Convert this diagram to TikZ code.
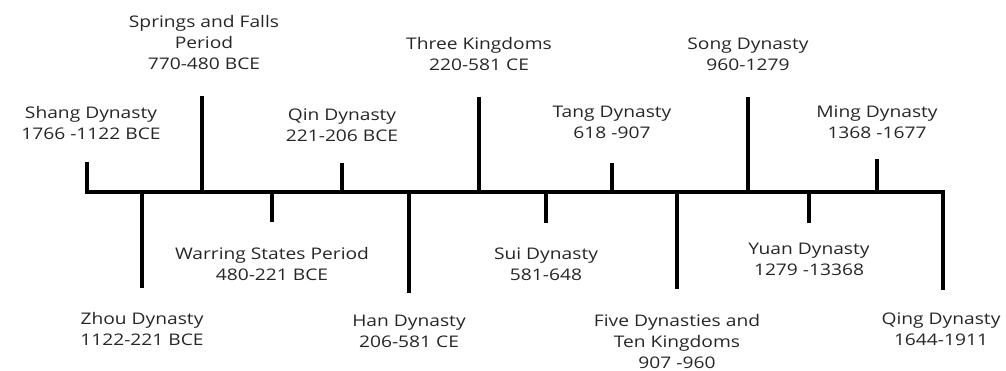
\documentclass[tikz,border=0pt]{standalone}
\usepackage{fontspec}
\setmainfont{Open Sans}[FakeStretch=1.2]
\begin{document}
\begin{tikzpicture}[
            x = 1pt, y = -1pt,
            every node/.style={align=center, inner sep=0pt, text=black!85,
                font=\fontsize{16}{21}\selectfont},
            line/.style={line width = 3.5pt},
            ]
        \useasboundingbox (0, 0) rectangle (1006, 371);

        % points on the axis
        \coordinate (shang) at (87, 192);
        \coordinate (zhou) at (142, 192);
        \coordinate (springs) at (202, 192);
        \coordinate (warring) at (272, 192);
        \coordinate (qin) at (342, 192);
        \coordinate (han) at (409, 192);
        \coordinate (three) at (479, 192);
        \coordinate (sui) at (546, 192);
        \coordinate (tang) at (612, 192);
        \coordinate (five) at (677, 192);
        \coordinate (song) at (748, 192);
        \coordinate (yuan) at (809, 192);
        \coordinate (ming) at (877, 192);
        \coordinate (qing) at (943, 192);

        % tick ends
        \coordinate (shang-end) at (87, 162);
        \coordinate (zhou-end) at (142, 288);
        \coordinate (springs-end) at (202, 96);
        \coordinate (warring-end) at (272, 222);
        \coordinate (qin-end) at (342, 163);
        \coordinate (han-end) at (409, 293);
        \coordinate (three-end) at (479, 97);
        \coordinate (sui-end) at (546, 223);
        \coordinate (tang-end) at (612, 163);
        \coordinate (five-end) at (677, 289);
        \coordinate (song-end) at (748, 97);
        \coordinate (yuan-end) at (809, 223);
        \coordinate (ming-end) at (877, 159);
        \coordinate (qing-end) at (943, 290);

        \draw[line] (shang-end) -- (shang) -- (qing) -- (qing-end);
        \draw[line] (zhou) -- (zhou-end);
        \draw[line] (springs) -- (springs-end);
        \draw[line] (warring) -- (warring-end);
        \draw[line] (qin) -- (qin-end);
        \draw[line] (han) -- (han-end);
        \draw[line] (three) -- (three-end);
        \draw[line] (sui) -- (sui-end);
        \draw[line] (tang) -- (tang-end);
        \draw[line] (five) -- (five-end);
        \draw[line] (song) -- (song-end);
        \draw[line] (yuan) -- (yuan-end);
        \draw[line] (ming) -- (ming-end);

        % labels above
        \node (shang-label) at (91, 123) {Shang Dynasty\\1766 -1122 BCE};
        \node (springs-label) at (204, 43) {Springs and Falls\\Period\\770-480 BCE};
        \node (qin-label) at (342, 125) {Qin Dynasty\\221-206 BCE};
        \node (three-label) at (479, 54) {Three Kingdoms\\220-581 CE};
        \node (tang-label) at (612, 122) {Tang Dynasty\\618 -907};
        \node (song-label) at (748, 54) {Song Dynasty\\960-1279};
        \node (ming-label) at (877, 122) {Ming Dynasty\\1368 -1677};

        % labels below
        \node (zhou-label) at (142, 329) {Zhou Dynasty\\1122-221 BCE};
        \node (warring-label) at (272, 264) {Warring States Period\\480-221 BCE};
        \node (han-label) at (409, 331) {Han Dynasty\\206-581 CE};
        \node (sui-label) at (546, 264) {Sui Dynasty\\581-648};
        \node (five-label) at (677, 341) {Five Dynasties and\\Ten Kingdoms\\907 -960};
        \node (yuan-label) at (809, 259) {Yuan Dynasty\\1279 -13368};
        \node (qing-label) at (941, 329) {Qing Dynasty\\1644-1911};
    \end{tikzpicture}
\end{document}
